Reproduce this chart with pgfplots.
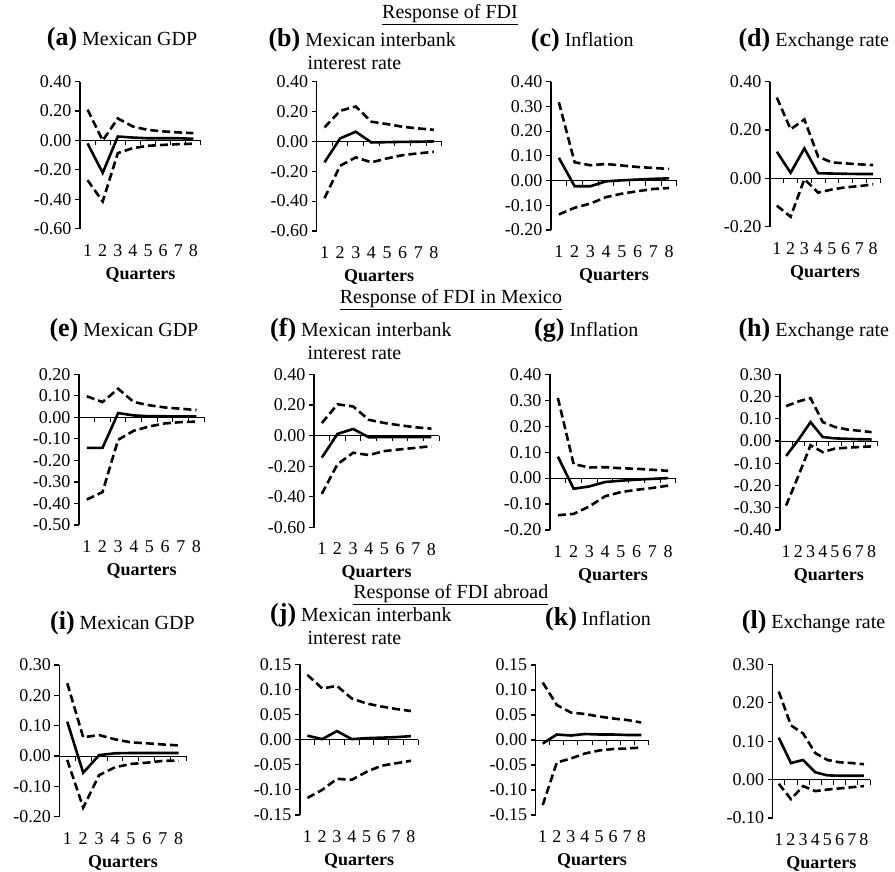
\documentclass[border=0pt]{standalone}
\usepackage{pgfplots}
\usepackage{pgfplotstable}
\pgfplotsset{compat=1.18}
\usepackage{fontspec}
\setmainfont{Liberation Serif}

% q = quarter, irf = response, lo/hi = error bands
\pgfplotstableread{
q irf lo hi
1 -0.02 -0.27 0.21
2 -0.22 -0.415 0.00
3 0.027 -0.086 0.15
4 0.02 -0.052 0.095
5 0.015 -0.036 0.072
6 0.015 -0.03 0.062
7 0.015 -0.025 0.055
8 0.012 -0.022 0.05
}\ta
\pgfplotstableread{
q irf lo hi
1 -0.14 -0.38 0.094
2 0.02 -0.163 0.205
3 0.065 -0.107 0.234
4 -0.007 -0.14 0.132
5 -0.005 -0.114 0.116
6 -0.003 -0.092 0.098
7 -0.002 -0.08 0.087
8 0.0 -0.07 0.078
}\tb
\pgfplotstableread{
q irf lo hi
1 0.092 -0.137 0.317
2 -0.023 -0.11 0.074
3 -0.023 -0.093 0.062
4 -0.003 -0.067 0.067
5 0.001 -0.053 0.061
6 0.004 -0.043 0.055
7 0.007 -0.034 0.051
8 0.009 -0.03 0.047
}\tc
\pgfplotstableread{
q irf lo hi
1 0.11 -0.113 0.334
2 0.023 -0.159 0.203
3 0.124 -0.003 0.244
4 0.021 -0.059 0.09
5 0.02 -0.046 0.066
6 0.019 -0.037 0.062
7 0.018 -0.032 0.058
8 0.018 -0.025 0.055
}\td
\pgfplotstableread{
q irf lo hi
1 -0.142 -0.382 0.098
2 -0.142 -0.347 0.071
3 0.02 -0.104 0.133
4 0.009 -0.062 0.071
5 0.005 -0.042 0.056
6 0.005 -0.028 0.046
7 0.004 -0.022 0.04
8 0.004 -0.02 0.034
}\te
\pgfplotstableread{
q irf lo hi
1 -0.144 -0.38 0.082
2 0.011 -0.187 0.204
3 0.043 -0.112 0.19
4 -0.011 -0.127 0.103
5 -0.01 -0.101 0.082
6 -0.01 -0.09 0.067
7 -0.01 -0.08 0.054
8 -0.01 -0.069 0.045
}\tf
\pgfplotstableread{
q irf lo hi
1 0.083 -0.143 0.309
2 -0.041 -0.138 0.054
3 -0.032 -0.109 0.041
4 -0.015 -0.07 0.042
5 -0.01 -0.054 0.038
6 -0.006 -0.045 0.036
7 -0.003 -0.038 0.032
8 0.0 -0.029 0.028
}\tg
\pgfplotstableread{
q irf lo hi
1 -0.067 -0.29 0.157
2 0.005 -0.157 0.178
3 0.085 -0.019 0.193
4 0.018 -0.05 0.085
5 0.012 -0.034 0.063
6 0.01 -0.03 0.052
7 0.008 -0.027 0.046
8 0.007 -0.024 0.04
}\th
\pgfplotstableread{
q irf lo hi
1 0.113 -0.013 0.24
2 -0.055 -0.17 0.062
3 0.003 -0.063 0.069
4 0.009 -0.037 0.055
5 0.01 -0.026 0.045
6 0.01 -0.022 0.042
7 0.01 -0.016 0.038
8 0.01 -0.015 0.035
}\ti
\pgfplotstableread{
q irf lo hi
1 0.008 -0.116 0.129
2 0.001 -0.1 0.102
3 0.017 -0.078 0.107
4 0.001 -0.08 0.082
5 0.003 -0.064 0.072
6 0.004 -0.052 0.066
7 0.005 -0.047 0.061
8 0.007 -0.042 0.057
}\tj
\pgfplotstableread{
q irf lo hi
1 -0.007 -0.13 0.115
2 0.011 -0.045 0.07
3 0.009 -0.037 0.055
4 0.012 -0.027 0.052
5 0.011 -0.021 0.047
6 0.011 -0.018 0.043
7 0.01 -0.017 0.04
8 0.01 -0.015 0.035
}\tk
\pgfplotstableread{
q irf lo hi
1 0.109 -0.011 0.229
2 0.043 -0.051 0.141
3 0.051 -0.017 0.12
4 0.019 -0.03 0.069
5 0.011 -0.026 0.051
6 0.01 -0.023 0.045
7 0.01 -0.02 0.043
8 0.01 -0.017 0.04
}\tl

\pgfplotsset{
  panel/.style={
    scale only axis, anchor=south west, clip=false,
    xmin=0.5, xmax=8.5,
    axis x line*=bottom, axis y line*=left,
    x axis line style={draw=none},
    y axis line style={-, line width=1.2pt},
    xtick={1,...,8}, x tick style={draw=none},
    y tick style={line width=1.2pt, black},
    tick align=outside, major tick length=5pt,
    /pgf/number format/assume math mode=true,
    tick label style={font=\fontsize{18}{20}\selectfont},
    yticklabel style={/pgf/number format/fixed, /pgf/number format/fixed zerofill, /pgf/number format/precision=2},
    xticklabel style={yshift=-7pt},
    xlabel={Quarters},
    xlabel style={font=\bfseries\fontsize{18}{20}\selectfont, yshift=-4pt},
  },
  irf/.style={black, line width=2.6pt, mark=none},
  band/.style={black, line width=2.6pt, mark=none, dash pattern=on 8pt off 4pt},
}

% #1 left, #2 bottom, #3 width, #4 height, #5 ymin, #6 ymax, #7 yticks, #8 table
\newcommand{\panel}[8]{%
\begin{axis}[panel, at={(#1pt,-#2pt)}, width=#3pt, height=#4pt,
  ymin=#5, ymax=#6, ytick={#7}]
\addplot[irf] table[x=q,y=irf]{#8};
\addplot[band] table[x=q,y=hi]{#8};
\addplot[band] table[x=q,y=lo]{#8};
\draw[line width=1pt] (axis cs:0.5,0) -- (axis cs:8.5,0);
\pgfplotsinvokeforeach{0.5,1.5,2.5,3.5,4.5,5.5,6.5,7.5,8.5}{\draw[line width=1pt] (axis cs:##1,0) -- ++(0pt,-5pt);}
\end{axis}}

\newcommand{\ttl}[1]{{\bfseries\fontsize{26}{28}\selectfont(#1)}}

\begin{document}
\begin{tikzpicture}
\useasboundingbox (0,0) rectangle (895pt,-872pt);

\panel{80}{228.7}{121}{147}{-0.6}{0.4}{-0.6,-0.4,-0.2,0,0.2,0.4}{\ta}
\panel{316.7}{231}{125}{149.3}{-0.6}{0.4}{-0.6,-0.4,-0.2,0,0.2,0.4}{\tb}
\panel{551}{230}{126}{148.3}{-0.2}{0.4}{-0.2,-0.1,0,0.1,0.2,0.3,0.4}{\tc}
\panel{770}{226.7}{110}{145}{-0.2}{0.4}{-0.2,0,0.2,0.4}{\td}

\panel{79}{525}{125.3}{150.7}{-0.5}{0.2}{-0.5,-0.4,-0.3,-0.2,-0.1,0,0.1,0.2}{\te}
\panel{314}{527.5}{125.3}{153.2}{-0.6}{0.4}{-0.6,-0.4,-0.2,0,0.2,0.4}{\tf}
\panel{550}{530}{126}{155.7}{-0.2}{0.4}{-0.2,-0.1,0,0.1,0.2,0.3,0.4}{\tg}
\panel{780}{530}{97.7}{155.7}{-0.4}{0.3}{-0.4,-0.3,-0.2,-0.1,0,0.1,0.2,0.3}{\th}

\panel{59.3}{816.7}{127.4}{151.7}{-0.2}{0.3}{-0.2,-0.1,0,0.1,0.2,0.3}{\ti}
\panel{300}{815}{118.3}{150.7}{-0.15}{0.15}{-0.15,-0.1,-0.05,0,0.05,0.1,0.15}{\tj}
\panel{535.7}{815}{112.6}{150}{-0.15}{0.15}{-0.15,-0.1,-0.05,0,0.05,0.1,0.15}{\tk}
\panel{772.7}{818}{97.3}{153.7}{-0.1}{0.3}{-0.1,0,0.1,0.2,0.3}{\tl}

\begin{scope}[every node/.style={font=\fontsize{20}{22}\selectfont, inner sep=0pt}]
\node at (450pt,-15pt) {\underline{Response of FDI}};
\node[anchor=west] at (46.7pt,-39pt) {\ttl{a} Mexican GDP};
\node[anchor=west] at (268.3pt,-40pt) {\ttl{b} Mexican interbank};
\node[anchor=west] at (307.3pt,-63pt) {interest rate};
\node[anchor=west] at (530.7pt,-40pt) {\ttl{c} Inflation};
\node[anchor=west] at (738.3pt,-40pt) {\ttl{d} Exchange rate};

\node at (451pt,-300pt) {\underline{Response of FDI in Mexico}};
\node[anchor=west] at (49.3pt,-330pt) {\ttl{e} Mexican GDP};
\node[anchor=west] at (270pt,-330pt) {\ttl{f} Mexican interbank};
\node[anchor=west] at (307.3pt,-353.3pt) {interest rate};
\node[anchor=west] at (534pt,-330pt) {\ttl{g} Inflation};
\node[anchor=west] at (738.3pt,-330pt) {\ttl{h} Exchange rate};

\node at (450.8pt,-595pt) {\underline{Response of FDI abroad}};
\node[anchor=west] at (50pt,-623.3pt) {\ttl{i} Mexican GDP};
\node[anchor=west] at (270pt,-615pt) {\ttl{j} Mexican interbank};
\node[anchor=west] at (307.3pt,-638pt) {interest rate};
\node[anchor=west] at (545pt,-619.3pt) {\ttl{k} Inflation};
\node[anchor=west] at (741.7pt,-622.7pt) {\ttl{l} Exchange rate};
\end{scope}
\end{tikzpicture}
\end{document}
